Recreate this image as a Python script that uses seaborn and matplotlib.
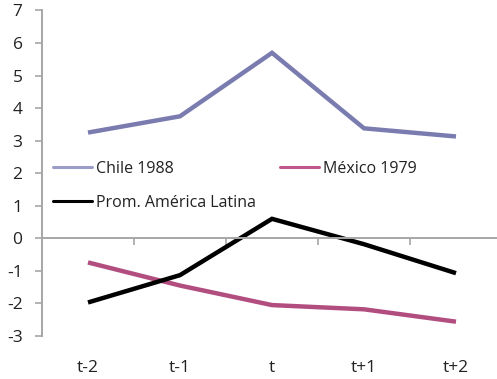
import matplotlib
matplotlib.use("Agg")
import matplotlib.pyplot as plt
import numpy as np
import pandas as pd
import seaborn as sns
from matplotlib.lines import Line2D

# Periods around the event year
periods = ["t-2", "t-1", "t", "t+1", "t+2"]

# Series values
chile_1988 = [3.25, 3.75, 5.7, 3.38, 3.13]
mexico_1979 = [-0.74, -1.45, -2.05, -2.18, -2.56]
prom_america_latina = [-1.97, -1.13, 0.6, -0.18, -1.07]

series_names = ["Chile 1988", "México 1979", "Prom. América Latina"]
line_colors = ["#7a7cb0", "#b24d80", "#000000"]
legend_colors = ["#9b9cc9", "#c1578c", "#000000"]
y_ticks = list(range(-3, 8))

sns.set_theme(style="white")
plt.rcParams["font.family"] = ["Open Sans", "DejaVu Sans"]

df = pd.DataFrame({
    "pos": list(range(len(periods))) * 3,
    "value": chile_1988 + mexico_1979 + prom_america_latina,
    "series": [s for s in series_names for _ in periods],
})

fig = plt.figure(figsize=(4.97, 3.79), dpi=100)
ax = fig.add_axes([42 / 497, 43 / 379, 460 / 497, 325.5 / 379])

sns.lineplot(
    data=df, x="pos", y="value", hue="series", hue_order=series_names,
    palette=dict(zip(series_names, line_colors)), linewidth=3.2,
    sort=False, legend=False, ax=ax,
)
for ln in ax.get_lines():
    ln.set_solid_joinstyle("miter")
    ln.set_solid_capstyle("butt")

axis_grey = "#a6a6a6"
ax.set_xlim(-0.5, len(periods) - 0.5)
ax.set_ylim(min(y_ticks), max(y_ticks))
ax.set_xlabel("")
ax.set_ylabel("")

for side in ("top", "right"):
    ax.spines[side].set_visible(False)
ax.spines["left"].set_color(axis_grey)
ax.spines["left"].set_linewidth(1.4)
ax.spines["bottom"].set_color(axis_grey)
ax.spines["bottom"].set_linewidth(1.4)
ax.spines["bottom"].set_position(("data", 0))

ax.set_yticks(y_ticks)
ax.set_yticklabels([str(v) for v in y_ticks])
ax.tick_params(axis="y", direction="out", length=5, width=1.2, color=axis_grey,
               labelsize=12.5, labelcolor="#222222", pad=9, left=True)

# Category labels sit at the bottom; boundary tick marks sit on the zero line
ax.set_xticks(range(len(periods)))
ax.set_xticklabels(periods)
ax.set_xticks(np.arange(0.5, len(periods) - 1, 1.0), minor=True)
ax.tick_params(axis="x", which="major", length=0, labelsize=12.5,
               labelcolor="#222222", pad=87.5, bottom=True)
ax.tick_params(axis="x", which="minor", direction="out", length=5, width=1.2,
               color=axis_grey, bottom=True)

handles = [Line2D([], [], color=c, lw=2.2) for c in legend_colors]
labels = series_names
order = [0, 2, 1]
ax.legend(
    [handles[i] for i in order], [labels[i] for i in order],
    ncol=2, loc="upper left", bbox_to_anchor=(53 / 497, 1 - 161 / 379),
    bbox_transform=fig.transFigure, frameon=False, fontsize=11.5,
    handlelength=2.45, handletextpad=0.25, labelspacing=1.1,
    columnspacing=1.5, borderpad=0, borderaxespad=0,
)
for t in ax.get_legend().get_texts():
    t.set_color("#222222")

fig.savefig("out.png", dpi=100)
